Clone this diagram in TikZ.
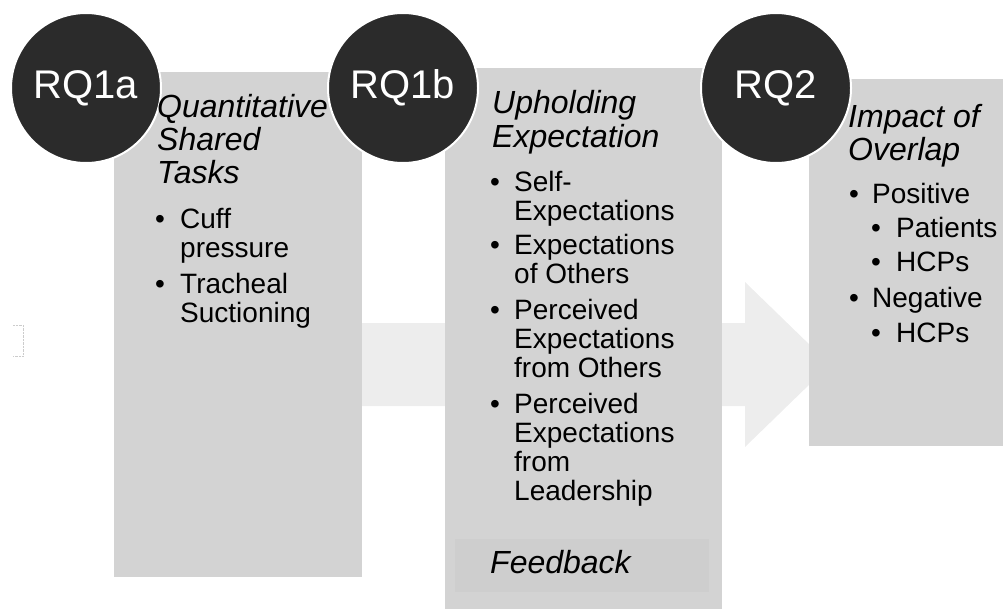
\documentclass[tikz,border=0pt]{standalone}
\usepackage{fontspec}
\setmainfont{Liberation Sans}
\definecolor{panelgray}{HTML}{D3D3D3}
\definecolor{feedgray}{HTML}{CECECE}
\definecolor{arrowgray}{HTML}{EDEDED}
\definecolor{circlegray}{HTML}{2B2B2B}
\tikzset{
	rqcircle/.style={circle,fill=circlegray,draw=white,line width=2pt,minimum size=150pt,inner sep=0pt,text=white,font=\fontsize{40}{44}\selectfont},
	panel/.style={fill=panelgray,inner sep=0pt,anchor=north west},
	headline/.style={anchor=base west,inner sep=0pt,font=\fontsize{32}{34}\selectfont\itshape},
	itemline/.style={anchor=base west,inner sep=0pt,font=\fontsize{28}{29}\selectfont},
	bulletmark/.style={anchor=base,inner sep=0pt,font=\fontsize{28}{29}\selectfont}
}
\begin{document}
\begin{tikzpicture}[x=1pt,y=-1pt]
				\useasboundingbox (0,0) rectangle (1003,608);
				\fill[arrowgray] (150,323)--(745,323)--(745,282)--(830,364.5)--(745,447)--(745,406)--(150,406)--cycle;
				\draw[black!20,densely dotted] (13,325)--(23,325)--(23,356)--(13,356);
				\node[panel,minimum width=248pt,minimum height=505pt] (boxa) at (114,72) {};
				\node[panel,minimum width=277pt,minimum height=560pt] (boxb) at (445,68) {};
				\node[panel,minimum width=200pt,minimum height=367pt] (boxc) at (809,79) {};
				\node[panel,fill=feedgray,minimum width=254pt,minimum height=53pt] (feedbox) at (455,539) {};
				\node[rqcircle] (rqa) at (86,88) {RQ1a};
				\node[rqcircle] (rqb) at (403,88) {RQ1b};
				\node[rqcircle] (rqc) at (776,88) {RQ2};
				\foreach \txt/\yy [count=\i] in {Quantitative/117,Shared/150,Tasks/183}
					\node[headline] (ta\i) at (157,\yy) {\txt};
				\foreach \yy [count=\i] in {228,293}
					\node[bulletmark] (ba\i) at (160,\yy) {•};
				\foreach \txt/\yy [count=\i] in {Cuff/228,pressure/257,Tracheal/293,Suctioning/322}
					\node[itemline] (la\i) at (180,\yy) {\txt};
				\foreach \txt/\yy [count=\i] in {Upholding/113,Expectation/147}
					\node[headline] (tb\i) at (492,\yy) {\txt};
				\foreach \yy [count=\i] in {191,254,319,413}
					\node[bulletmark] (bb\i) at (495,\yy) {•};
				\foreach \txt/\yy [count=\i] in {Self-/191,Expectations/220,Expectations/254,of Others/283,Perceived/319,Expectations/348,from Others/377,Perceived/413,Expectations/442,from/471,Leadership/500}
					\node[itemline] (lb\i) at (514,\yy) {\txt};
				\node[headline] (feedback) at (490,573) {Feedback};
				\foreach \txt/\yy [count=\i] in {Impact of/127,Overlap/160}
					\node[headline] (tc\i) at (848,\yy) {\txt};
				\foreach \yy [count=\i] in {203,307}
					\node[bulletmark] (bc\i) at (854,\yy) {•};
				\foreach \yy [count=\i] in {237,271,342}
					\node[bulletmark] (sc\i) at (876,\yy) {•};
				\foreach \txt/\yy [count=\i] in {Positive/203,Negative/307}
					\node[itemline] (lc\i) at (872,\yy) {\txt};
				\foreach \txt/\yy [count=\i] in {Patients/237,HCPs/271,HCPs/342}
					\node[itemline] (mc\i) at (896,\yy) {\txt};
			\end{tikzpicture}
\end{document}
